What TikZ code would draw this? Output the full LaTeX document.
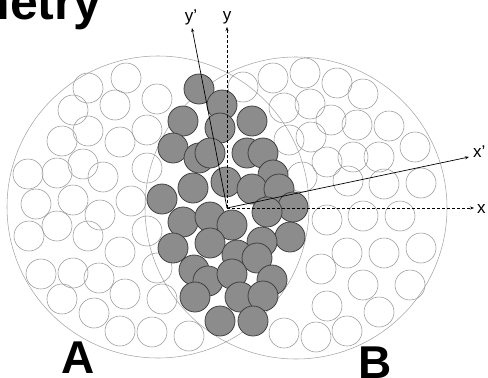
\documentclass[tikz,border=0pt]{standalone}
\usepackage{fontspec}
\setmainfont{Liberation Sans}
\usetikzlibrary{arrows.meta}

\begin{document}
\begin{tikzpicture}[x=1pt,y=-1pt,>={Stealth[length=4pt,width=3pt]},
  pebble/.style={draw=black!40,line width=0.55pt},
  hitpebble/.style={draw=black!75,fill=black!45,line width=0.8pt},
  nucleus/.style={draw=black!35,line width=0.55pt},
  axislabel/.style={font=\fontsize{17}{17}\selectfont,inner sep=0pt}]
  \useasboundingbox (0,0) rectangle (488,378);
  \draw[nucleus] (158,207) circle (151pt);
  \draw[nucleus] (296,208) circle (151pt);
  % nucleons that do not collide
  \foreach \p in {(126,78),(88,88),(115,105),(157,99),(73,110),(88,131),(62,141),
      (120,142),(147,130),(147,168),(28,174),(57,173),(83,164),(103,177),(36,204),
      (73,200),(100,215),(131,201),(57,226),(29,236),(88,236),(147,231),(120,252),
      (157,268),(41,274),(73,273),(99,278),(62,299),(125,294),(162,299),(94,313),
      (120,331),(152,332),(189,336)}
    \draw[pebble] \p circle (15pt);
  \foreach \p in {(243,87),(273,78),(305,73),(337,83),(363,94),(284,108),(310,104),
      (331,120),(357,125),(389,126),(415,147),(311,137),(289,140),(327,162),(353,157),
      (379,157),(302,177),(348,181),(384,184),(421,183),(327,220),(363,216),(400,216),
      (347,253),(384,253),(421,248),(321,269),(363,285),(410,285),(327,306),(379,312),
      (284,333),(316,337),(347,331)}
    \draw[pebble] \p circle (15pt);
  % participants
  \foreach \p in {(199,89),(222,105),(220,128),(183,121),(252,121),(173,148),(199,158),
      (210,153),(247,153),(263,153),(273,175),(226,182),(252,189),(279,189),(193,188),
      (162,199),(293,207),(267,212),(183,222),(210,217),(232,225),(290,237),(173,248),
      (210,243),(262,242),(237,255),(257,258),(194,270),(208,281),(232,274),(272,280),
      (195,297),(240,297),(263,296),(220,321),(253,321)}
    \draw[hitpebble] \p circle (15pt);
  % axes
  \coordinate (o) at (227,208);
  \coordinate (xend) at (474,208);
  \coordinate (yend) at (227,27);
  \coordinate (xpend) at (469,157);
  \coordinate (ypend) at (192,28);
  \draw[->,dash pattern=on 3pt off 2pt,line width=0.6pt] (o) -- (xend);
  \draw[->,dash pattern=on 3pt off 2pt,line width=0.6pt] (o) -- (yend);
  \draw[->,line width=0.7pt] (o) -- (xpend);
  \draw[->,line width=0.7pt] (o) -- (ypend);
  \node[axislabel,anchor=west] (xlab) at (477,209) {x};
  \node[axislabel,anchor=west] (xplab) at (473,152) {x'};
  \node[axislabel,anchor=south] (ylab) at (227,24) {y};
  \node[axislabel,anchor=south] (yplab) at (191,25) {y'};
  % labels
  \node[font=\bfseries\fontsize{50}{50}\selectfont,inner sep=0pt,anchor=base east] (title) at (102,19) {metry};
  \node[font=\bfseries\fontsize{46}{46}\selectfont,inner sep=0pt,anchor=base] (nucA) at (78.5,373) {A};
  \node[font=\bfseries\fontsize{46}{46}\selectfont,inner sep=0pt,anchor=base] (nucB) at (375,378) {B};
\end{tikzpicture}
\end{document}
